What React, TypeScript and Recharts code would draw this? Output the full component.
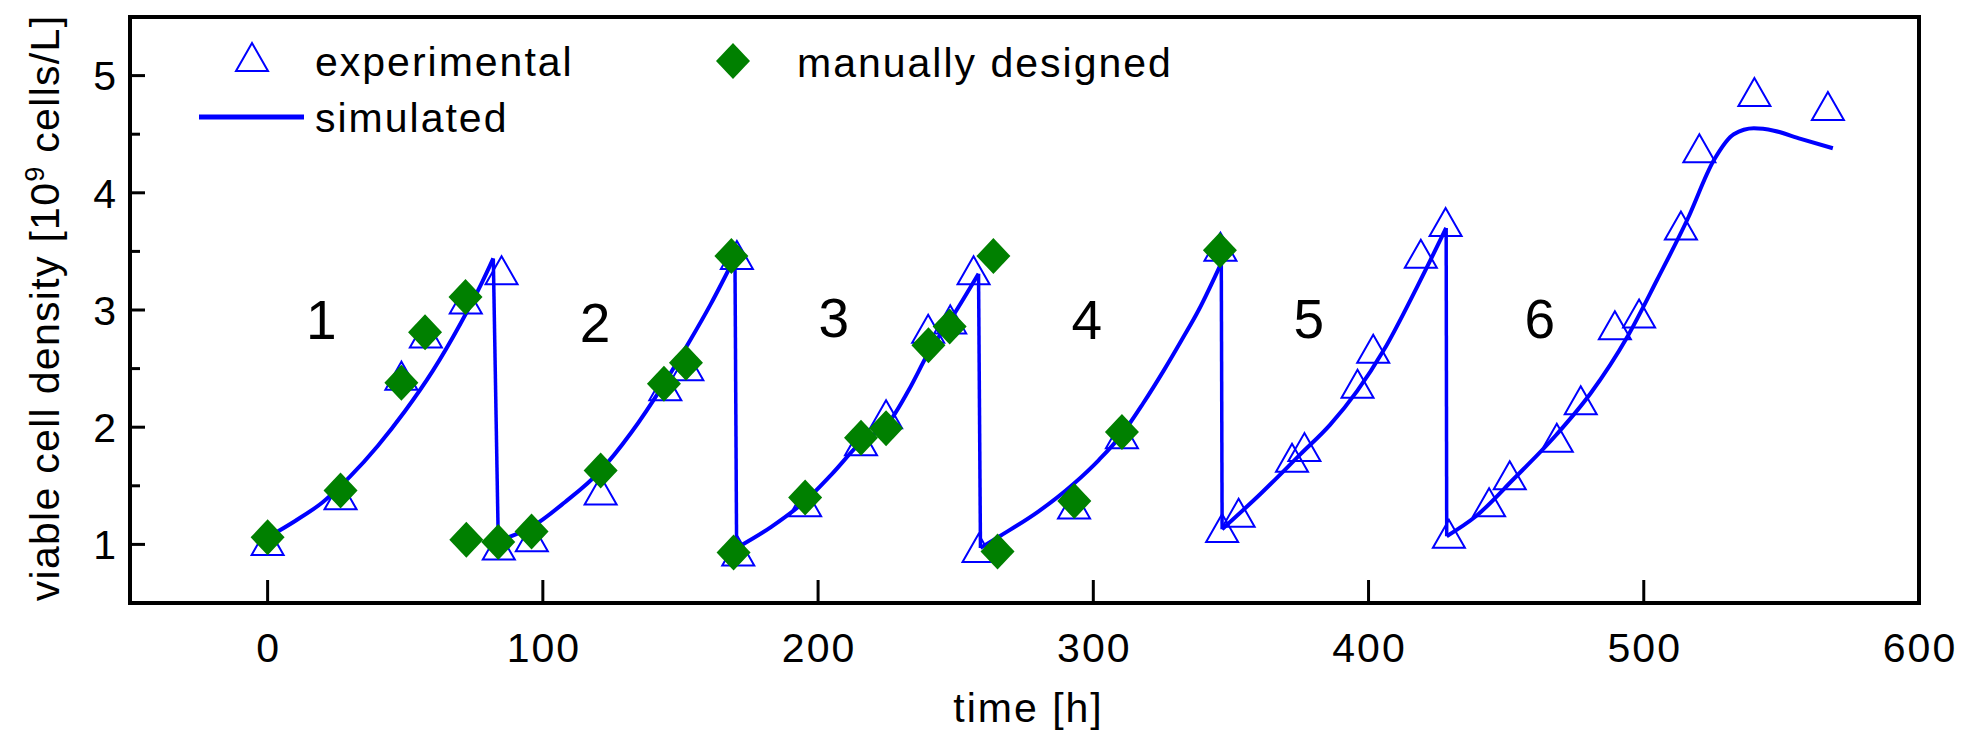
import { ComposedChart, Line, Scatter, XAxis, YAxis, ReferenceArea, Legend } from "recharts";

// experimental viable cell density (triangles)
const experimental = [
  { x: 0, y: 1.03 }, { x: 26.5, y: 1.42 }, { x: 48.6, y: 2.44 }, { x: 57.5, y: 2.8 }, { x: 72, y: 3.09 }, { x: 85, y: 3.34 },
  { x: 84, y: 0.99 }, { x: 96, y: 1.06 }, { x: 121, y: 1.46 }, { x: 144.5, y: 2.35 }, { x: 152.5, y: 2.52 }, { x: 170.5, y: 3.47 },
  { x: 171, y: 0.94 }, { x: 195.3, y: 1.36 }, { x: 215.6, y: 1.88 }, { x: 224.7, y: 2.11 }, { x: 240, y: 2.84 }, { x: 248, y: 2.92 }, { x: 256.5, y: 3.34 },
  { x: 258.3, y: 0.97 }, { x: 293, y: 1.34 }, { x: 310.4, y: 1.94 }, { x: 346.2, y: 3.54 },
  { x: 346.8, y: 1.14 }, { x: 352.8, y: 1.27 }, { x: 372.2, y: 1.74 }, { x: 376.7, y: 1.83 }, { x: 396, y: 2.37 }, { x: 401.7, y: 2.67 }, { x: 419, y: 3.48 }, { x: 428, y: 3.75 },
  { x: 429.2, y: 1.09 }, { x: 443.8, y: 1.36 }, { x: 451.3, y: 1.59 }, { x: 468.4, y: 1.91 }, { x: 477.1, y: 2.23 }, { x: 489.5, y: 2.87 },
  { x: 498.3, y: 2.97 }, { x: 513.5, y: 3.72 }, { x: 520.2, y: 4.38 }, { x: 540.2, y: 4.86 }, { x: 566.9, y: 4.74 },
];

// manually designed feeding profile (diamonds)
const manual = [
  { x: 0, y: 1.06 }, { x: 26.5, y: 1.46 }, { x: 48.6, y: 2.38 }, { x: 57.2, y: 2.81 }, { x: 71.9, y: 3.11 }, { x: 72.2, y: 1.04 },
  { x: 83.8, y: 1.02 }, { x: 95.9, y: 1.11 }, { x: 121, y: 1.63 }, { x: 144, y: 2.37 }, { x: 152, y: 2.55 }, { x: 168.5, y: 3.46 },
  { x: 169.3, y: 0.93 }, { x: 195.3, y: 1.4 }, { x: 215.6, y: 1.91 }, { x: 224.7, y: 1.99 }, { x: 240.1, y: 2.7 }, { x: 247.8, y: 2.86 },
  { x: 263.7, y: 3.46 }, { x: 265.2, y: 0.94 }, { x: 293.1, y: 1.37 }, { x: 310.4, y: 1.96 }, { x: 346, y: 3.51 },
];

// simulated growth, one array per cycle
const sim1 = [
  { x: 0, y: 1.06 }, { x: 10, y: 1.2 }, { x: 20, y: 1.36 }, { x: 30, y: 1.58 }, { x: 40, y: 1.84 }, { x: 50, y: 2.14 },
  { x: 60, y: 2.48 }, { x: 70, y: 2.88 }, { x: 78, y: 3.24 }, { x: 82, y: 3.44 },
];
const sim2 = [
  { x: 83.8, y: 1.03 }, { x: 96, y: 1.15 }, { x: 108, y: 1.36 }, { x: 121, y: 1.63 }, { x: 132, y: 1.95 }, { x: 144, y: 2.37 },
  { x: 153, y: 2.72 }, { x: 161, y: 3.05 }, { x: 169.8, y: 3.45 },
];
const sim3 = [
  { x: 170.4, y: 0.97 }, { x: 183, y: 1.15 }, { x: 195.3, y: 1.37 }, { x: 205, y: 1.6 }, { x: 216, y: 1.88 }, { x: 225, y: 2.02 },
  { x: 233, y: 2.32 }, { x: 240, y: 2.63 }, { x: 249, y: 2.95 }, { x: 258.3, y: 3.31 },
];
const sim4 = [
  { x: 259, y: 0.97 }, { x: 266, y: 1.07 }, { x: 280, y: 1.28 }, { x: 293, y: 1.52 }, { x: 302, y: 1.72 }, { x: 310.4, y: 1.94 },
  { x: 318, y: 2.2 }, { x: 326, y: 2.5 }, { x: 332, y: 2.74 }, { x: 338.3, y: 3.0 }, { x: 346.5, y: 3.4 },
];
const sim5 = [
  { x: 346.8, y: 1.13 }, { x: 360.7, y: 1.43 }, { x: 375.3, y: 1.77 }, { x: 386, y: 2.02 }, { x: 395.9, y: 2.31 },
  { x: 405.6, y: 2.66 }, { x: 417.7, y: 3.2 }, { x: 428.2, y: 3.7 },
];
const sim6 = [
  { x: 428.4, y: 1.07 }, { x: 439, y: 1.24 }, { x: 452.8, y: 1.56 }, { x: 468.4, y: 1.94 }, { x: 480.7, y: 2.29 }, { x: 494, y: 2.77 },
  { x: 504.9, y: 3.26 }, { x: 515.8, y: 3.77 }, { x: 525.5, y: 4.28 }, { x: 532.7, y: 4.5 }, { x: 540, y: 4.55 },
  { x: 547.3, y: 4.53 }, { x: 557, y: 4.46 }, { x: 568.7, y: 4.38 },
];

// harvest / dilution steps between cycles
const drop1 = [{ x: 82, y: 3.44 }, { x: 83.8, y: 1.03 }];
const drop2 = [{ x: 169.8, y: 3.45 }, { x: 170.4, y: 0.97 }];
const drop3 = [{ x: 258.3, y: 3.31 }, { x: 259, y: 0.97 }];
const drop4 = [{ x: 346.5, y: 3.4 }, { x: 346.8, y: 1.13 }];
const drop5 = [{ x: 428.2, y: 3.7 }, { x: 428.4, y: 1.07 }];

const cycleLabels = [
  { x: 19.5, y: 2.92, label: "1" },
  { x: 119, y: 2.9, label: "2" },
  { x: 205.7, y: 2.94, label: "3" },
  { x: 297.6, y: 2.92, label: "4" },
  { x: 378.3, y: 2.93, label: "5" },
  { x: 462.2, y: 2.93, label: "6" },
];

const xTicks = [0, 100, 200, 300, 400, 500, 600];
const yTicks = [1, 1.5, 2, 2.5, 3, 3.5, 4, 4.5, 5];

const FONT = "'Liberation Sans', Arial, sans-serif";
const BLUE = "#0000ff";
const GREEN = "#008000";
const X_MARGIN = 10;
const Y_MARGIN = 10;
const TXT = { fontSize: 41, letterSpacing: 2, fontFamily: FONT, fill: "#000" };

const triPoints = (cx: number, cy: number) => `${cx},${cy - 14} ${cx - 16},${cy + 14} ${cx + 16},${cy + 14}`;
const diaPoints = (cx: number, cy: number) => `${cx},${cy - 18} ${cx + 17},${cy} ${cx},${cy + 18} ${cx - 17},${cy}`;

const Triangle = ({ cx, cy }: any) => <polygon points={triPoints(cx, cy)} fill="none" stroke={BLUE} strokeWidth={2} />;
const Diamond = ({ cx, cy }: any) => <polygon points={diaPoints(cx, cy)} fill={GREEN} />;
const CycleText = ({ cx, cy, payload }: any) => (
  <text x={cx} y={cy} dy="0.36em" textAnchor="middle" fontSize={55} fontFamily={FONT} fill="#000">
    {payload.label}
  </text>
);

const XTick = ({ x, y, payload }: any) => {
  const axisY = y - X_MARGIN;
  return (
    <g>
      <line x1={x} x2={x} y1={axisY} y2={axisY - 23} stroke="#000" strokeWidth={3} />
      <text x={x + 1} y={axisY + 59} textAnchor="middle" {...TXT}>
        {payload.value}
      </text>
    </g>
  );
};

const YTick = ({ x, y, payload }: any) => {
  const axisX = x + Y_MARGIN;
  const major = Number.isInteger(payload.value);
  return (
    <g>
      <line x1={axisX} x2={axisX + (major ? 15 : 10)} y1={y} y2={y} stroke="#000" strokeWidth={3} />
      {major && (
        <text x={axisX - 12} y={y} dy="0.36em" textAnchor="end" {...TXT}>
          {payload.value}
        </text>
      )}
    </g>
  );
};

const YTitle = ({ viewBox }: any) => {
  const cx = viewBox.x + 44;
  const cy = viewBox.y + viewBox.height / 2 - 2;
  return (
    <text x={cx} y={cy} transform={`rotate(-90 ${cx} ${cy})`} textAnchor="middle" dy="0.36em" {...TXT} letterSpacing={1.3}>
      viable cell density [10
      <tspan dy={-15} fontSize={27}>9</tspan>
      <tspan dy={15}> cells/L]</tspan>
    </text>
  );
};

const XTitle = ({ viewBox }: any) => (
  <text x={viewBox.x + viewBox.width / 2 + 4} y={722} textAnchor="middle" {...TXT}>
    time [h]
  </text>
);

const LegendBox = () => (
  <svg width={1300} height={150}>
    <polygon points={triPoints(252, 57)} fill="none" stroke={BLUE} strokeWidth={2} />
    <text x={315} y={76} {...TXT}>experimental</text>
    <polygon points={diaPoints(733, 61)} fill={GREEN} />
    <text x={797} y={77} {...TXT}>manually designed</text>
    <line x1={199} x2={304} y1={117} y2={117} stroke={BLUE} strokeWidth={5} />
    <text x={315} y={132} {...TXT}>simulated</text>
  </svg>
);

const growth = [sim1, sim2, sim3, sim4, sim5, sim6];
const drops = [drop1, drop2, drop3, drop4, drop5];

export default function App() {
  return (
    <div style={{ width: 1966, height: 737, background: "#fff" }}>
      <style>{"body{margin:0}"}</style>
      <ComposedChart width={1966} height={737} margin={{ top: 17, right: 47, left: 0, bottom: 0 }}>
        <XAxis
          type="number"
          dataKey="x"
          domain={[-50, 600]}
          ticks={xTicks}
          interval={0}
          allowDataOverflow
          height={134}
          tickSize={0}
          tickMargin={X_MARGIN}
          axisLine={false}
          tick={<XTick />}
          label={<XTitle />}
        />
        <YAxis
          type="number"
          dataKey="y"
          domain={[0.5, 5.5]}
          ticks={yTicks}
          interval={0}
          allowDataOverflow
          width={130}
          tickSize={0}
          tickMargin={Y_MARGIN}
          axisLine={false}
          tick={<YTick />}
          label={<YTitle />}
        />
        <ReferenceArea x1={-50} x2={600} y1={0.5} y2={5.5} fill="none" stroke="#000" strokeWidth={4} ifOverflow="visible" />
        {growth.map((d, i) => (
          <Line key={`g${i}`} data={d} dataKey="y" type="monotone" stroke={BLUE} strokeWidth={4} dot={false} activeDot={false} isAnimationActive={false} legendType="none" />
        ))}
        {drops.map((d, i) => (
          <Line key={`d${i}`} data={d} dataKey="y" type="linear" stroke={BLUE} strokeWidth={3.5} dot={false} activeDot={false} isAnimationActive={false} legendType="none" />
        ))}
        <Scatter data={experimental} dataKey="y" shape={<Triangle />} isAnimationActive={false} legendType="none" />
        <Scatter data={manual} dataKey="y" shape={<Diamond />} isAnimationActive={false} legendType="none" />
        <Scatter data={cycleLabels} dataKey="y" shape={<CycleText />} isAnimationActive={false} legendType="none" />
        <Legend
          layout="vertical"
          align="center"
          verticalAlign="middle"
          content={<LegendBox />}
          wrapperStyle={{ left: 0, top: 0, width: 1300, height: 150 }}
        />
      </ComposedChart>
    </div>
  );
}
